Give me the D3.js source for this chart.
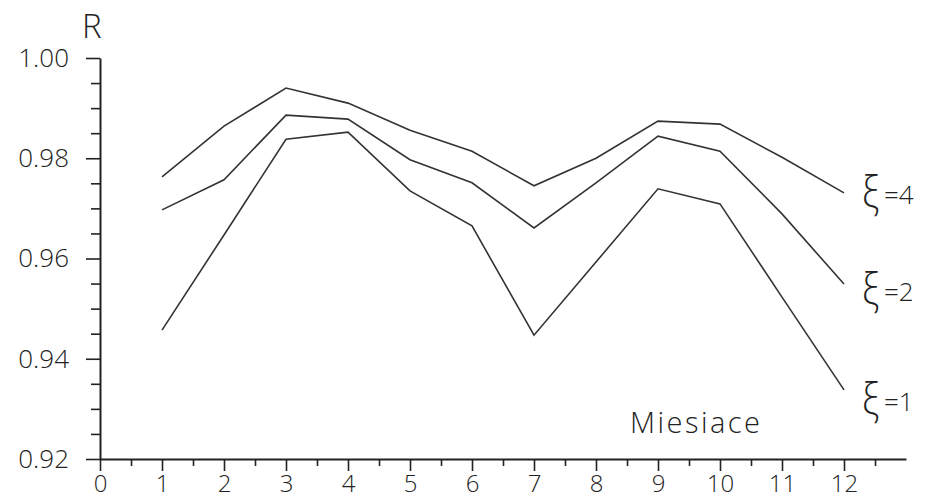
<!DOCTYPE html>
<html>
<head>
<meta charset="utf-8">
<script src="https://cdn.jsdelivr.net/npm/d3@7"></script>
<style>
  html, body { margin: 0; padding: 0; background: #fff; }
  svg { display: block; }
  text { font-family: "Open Sans", "Lato", sans-serif; font-weight: 300; fill: #222; }
</style>
</head>
<body>
<svg id="chart" width="941" height="499"></svg>
<script>
// Correlation coefficient R by month for three values of xi
const months = [1, 2, 3, 4, 5, 6, 7, 8, 9, 10, 11, 12];
const xTickValues = [0, 1, 2, 3, 4, 5, 6, 7, 8, 9, 10, 11, 12];
const yTickValues = [0.92, 0.94, 0.96, 0.98, 1.00];

const rXi4 = [0.9763, 0.9864, 0.9940, 0.9910, 0.9856, 0.9814, 0.9745, 0.9800, 0.9874, 0.9868, 0.9802, 0.9731];
const rXi2 = [0.9697, 0.9757, 0.9886, 0.9878, 0.9797, 0.9751, 0.9661, 0.9751, 0.9844, 0.9814, 0.9689, 0.9549];
const rXi1 = [0.9457, 0.9647, 0.9838, 0.9852, 0.9735, 0.9665, 0.9447, 0.9593, 0.9739, 0.9709, 0.9523, 0.9338];

const seriesLabels = ["4", "2", "1"];
const seriesValues = [rXi4, rXi2, rXi1];

const svg = d3.select("#chart");
const x = d3.scaleLinear().domain([0, 13]).range([100, 906]);
const y = d3.scaleLinear().domain([0.92, 1.00]).range([459, 58]);

const ink = "#222";

// x axis: labelled whole months plus half-month minor ticks
const xMajor = svg.append("g")
  .attr("transform", `translate(0,${y(0.92)})`)
  .call(d3.axisBottom(x).tickValues(xTickValues).tickSize(12).tickSizeOuter(0)
        .tickPadding(4).tickFormat(d3.format("d")));
xMajor.selectAll("text").style("font-size", "24px");

const xMinorVals = d3.range(0, 13).map(v => v + 0.5);
svg.append("g")
  .attr("transform", `translate(0,${y(0.92)})`)
  .call(d3.axisBottom(x).tickValues(xMinorVals).tickSize(7).tickSizeOuter(0).tickFormat(""))
  .select(".domain").remove();

// y axis: major ticks every 0.02, minor every 0.005
const yMajor = svg.append("g")
  .attr("transform", `translate(${x(0)},0)`)
  .call(d3.axisLeft(y).tickValues(yTickValues).tickSize(14).tickSizeOuter(0)
        .tickPadding(17).tickFormat(d3.format(".2f")));
yMajor.selectAll("text").style("font-size", "26px");

const yMinorVals = d3.range(0, 17).map(i => 0.92 + i * 0.005)
  .filter(v => Math.round(v * 1000) % 20 !== 0);
svg.append("g")
  .attr("transform", `translate(${x(0)},0)`)
  .call(d3.axisLeft(y).tickValues(yMinorVals).tickSize(9).tickSizeOuter(0).tickFormat(""))
  .select(".domain").remove();

svg.selectAll(".domain").attr("stroke", ink).attr("stroke-width", 2);
svg.selectAll(".tick line").attr("stroke", ink).attr("stroke-width", 1.6);

// series lines
const line = d3.line()
  .x((d, i) => x(months[i]))
  .y(d => y(d));

svg.append("g").selectAll("path")
  .data(seriesValues)
  .join("path")
  .attr("d", line)
  .attr("fill", "none")
  .attr("stroke", "#333")
  .attr("stroke-width", 1.6)
  .attr("stroke-linejoin", "miter");

// axis titles
svg.append("text")
  .attr("x", 82).attr("y", 38)
  .style("font-size", "33px")
  .text("R");

svg.append("text")
  .attr("x", 630).attr("y", 433)
  .attr("textLength", 130)
  .attr("lengthAdjust", "spacing")
  .style("font-size", "29px")
  .text("Miesiace");

// series labels at the right end of each line
const labelY = [195, 292, 402];
const labels = svg.append("g").selectAll("g")
  .data(seriesLabels)
  .join("g")
  .attr("transform", (d, i) => `translate(862,${labelY[i]})`);

labels.append("text")
  .attr("x", 0).attr("y", 13)
  .attr("transform", "scale(0.85,1)")
  .style("font-size", "44px")
  .text("ξ");

labels.append("text")
  .attr("x", 22).attr("y", 9)
  .style("font-size", "26px")
  .text(d => "=" + d);
</script>
</body>
</html>
